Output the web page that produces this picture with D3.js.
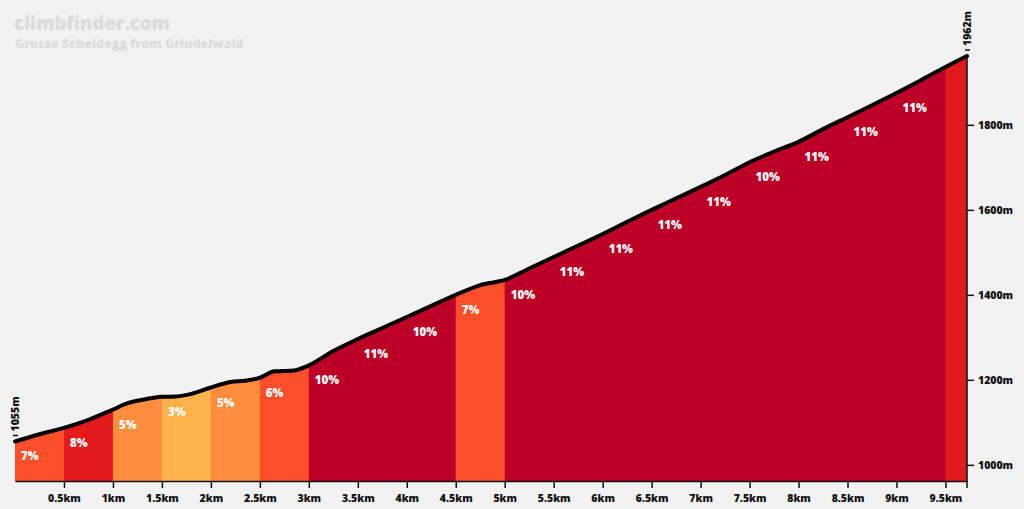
<!DOCTYPE html>
<html>
<head>
<meta charset="utf-8">
<script src="https://cdn.jsdelivr.net/npm/d3@7/dist/d3.min.js"></script>
<style>
  html, body { margin: 0; padding: 0; background: #f2f2f2; }
  svg { display: block; }
  text { font-family: "Open Sans", Lato, sans-serif; }
</style>
</head>
<body>
<svg id="chart" width="1024" height="509"></svg>
<script>
// ---- data ----
const distances = [0, 0.25, 0.5, 0.75, 1.0, 1.15, 1.3, 1.5, 1.65, 1.8, 2.0, 2.2, 2.35, 2.5, 2.65, 2.85, 3.0,
  3.25, 3.5, 3.75, 4.0, 4.25, 4.5, 4.75, 5.0, 5.25, 5.5, 5.75, 6.0, 6.25, 6.5, 6.75, 7.0, 7.25, 7.5, 7.75,
  8.0, 8.25, 8.5, 8.75, 9.0, 9.25, 9.5, 9.72];
const elevations = [1055, 1072, 1087, 1106, 1130, 1145, 1153, 1160, 1161, 1167, 1182, 1195, 1198, 1205, 1220, 1222, 1234,
  1268, 1296, 1322, 1348, 1374, 1400, 1423, 1435, 1462, 1489, 1516, 1543, 1572, 1600, 1627, 1654, 1682, 1712, 1737,
  1760, 1790, 1818, 1846, 1875, 1905, 1936, 1962];
const segStarts = [0, 0.5, 1, 1.5, 2, 2.5, 3, 3.5, 4, 4.5, 5, 5.5, 6, 6.5, 7, 7.5, 8, 8.5, 9, 9.5];
const segGrades = [7, 8, 5, 3, 5, 6, 10, 11, 10, 7, 10, 11, 11, 11, 11, 10, 11, 11, 11, 8];
const segShowLabel = [1,1,1,1,1,1,1,1,1,1,1,1,1,1,1,1,1,1,1,0];
const xTicks = [0.5, 1, 1.5, 2, 2.5, 3, 3.5, 4, 4.5, 5, 5.5, 6, 6.5, 7, 7.5, 8, 8.5, 9, 9.5];
const xTickLabels = ["0.5km","1km","1.5km","2km","2.5km","3km","3.5km","4km","4.5km","5km","5.5km","6km","6.5km","7km","7.5km","8km","8.5km","9km","9.5km"];
const yTicks = [1000, 1200, 1400, 1600, 1800];
const yTickLabels = ["1000m", "1200m", "1400m", "1600m", "1800m"];
const title = "climbfinder.com";
const subtitle = "Grosse Scheidegg from Grindelwald";
const startLabel = "1055m";
const endLabel = "1962m";

// ---- setup ----
const totalKm = distances[distances.length - 1];
const svg = d3.select("#chart");
const x = d3.scaleLinear().domain([0, totalKm]).range([15, 967]);
const y = d3.scaleLinear().domain([962, 1962]).range([481, 56]);
const pts = distances.map((d, i) => ({ d, e: elevations[i] }));

function color(g) {
  if (g >= 9) return "#bd0026";
  if (g >= 8) return "#e31a1c";
  if (g >= 6) return "#fc4e2a";
  if (g >= 4) return "#fd8d3c";
  return "#feb24c";
}
function elevAt(k) {
  for (let i = 1; i < pts.length; i++) {
    if (k <= pts[i].d) {
      const a = pts[i - 1], b = pts[i];
      return a.e + (b.e - a.e) * (k - a.d) / (b.d - a.d);
    }
  }
  return pts[pts.length - 1].e;
}

svg.append("rect").attr("width", 1024).attr("height", 509).attr("fill", "#f2f2f2");

// title
svg.append("text").attr("x", 14).attr("y", 30).text(title)
  .attr("font-size", 18.5).attr("font-weight", 800).attr("fill", "#dcdcdc");
svg.append("text").attr("x", 15).attr("y", 48).text(subtitle)
  .attr("font-size", 12.5).attr("font-weight", 800).attr("fill", "#dcdcdc");

const curve = d3.curveMonotoneX;
const area = d3.area().x(p => x(p.d)).y0(y(962)).y1(p => y(p.e)).curve(curve);
const line = d3.line().x(p => x(p.d)).y(p => y(p.e)).curve(curve);

const defs = svg.append("defs");
segStarts.forEach((s, i) => {
  const s1 = i < segStarts.length - 1 ? segStarts[i + 1] : totalKm;
  defs.append("clipPath").attr("id", "seg" + i)
    .append("rect").attr("x", x(s)).attr("y", 0)
    .attr("width", x(s1) - x(s) + (i < segStarts.length - 1 ? 0.5 : 0)).attr("height", 509);
  svg.append("path").datum(pts).attr("d", area)
    .attr("fill", color(segGrades[i])).attr("clip-path", "url(#seg" + i + ")");
});

// labels
segStarts.forEach((s, i) => {
  if (!segShowLabel[i]) return;
  svg.append("text").attr("x", x(s) + 6).attr("y", y(elevAt(s)) + 19)
    .text(segGrades[i] + "%").attr("fill", "#fff")
    .attr("font-size", 11.5).attr("font-weight", 800);
});

// profile line
svg.append("path").datum(pts).attr("d", line)
  .attr("fill", "none").attr("stroke", "#000").attr("stroke-width", 4)
  .attr("stroke-linejoin", "round").attr("stroke-linecap", "round");

// bottom axis
const xAxis = d3.axisBottom(x).tickValues(xTicks).tickSize(7).tickSizeOuter(0)
  .tickFormat((d, i) => xTickLabels[i]);
const gx = svg.append("g").attr("transform", `translate(0,${y(962)})`).call(xAxis);
gx.select(".domain").attr("stroke", "#111").attr("stroke-width", 1.5);
gx.selectAll(".tick line").attr("stroke", "#111").attr("stroke-width", 1.5);
gx.selectAll("text").attr("font-size", 10.5).attr("font-weight", 800)
  .attr("fill", "#111").attr("font-family", "'Open Sans', sans-serif").attr("dy", "1.0em");

// right axis
const yAxis = d3.axisRight(y).tickValues(yTicks).tickSize(7).tickSizeOuter(0)
  .tickFormat((d, i) => yTickLabels[i]);
const gy = svg.append("g").attr("transform", `translate(${x(totalKm)},0)`).call(yAxis);
gy.select(".domain").remove();
gy.append("line").attr("x1", 0).attr("x2", 0).attr("y1", y(1962)).attr("y2", y(962) + 7)
  .attr("stroke", "#111").attr("stroke-width", 1.5);
gy.selectAll(".tick line").attr("stroke", "#111").attr("stroke-width", 1.5);
gy.selectAll("text").attr("font-size", 10.5).attr("font-weight", 800)
  .attr("fill", "#111").attr("font-family", "'Open Sans', sans-serif").attr("x", 11);

// start / end elevation markers
function marker(k, e, label) {
  const px = x(k), py = y(e) - 6;
  svg.append("line").attr("x1", px - 2).attr("x2", px + 3).attr("y1", py).attr("y2", py)
    .attr("stroke", "#111").attr("stroke-width", 1.5);
  svg.append("text").attr("transform", `translate(${px + 4},${py - 4}) rotate(-90)`)
    .text(label).attr("font-size", 10.5).attr("font-weight", 800).attr("fill", "#111");
}
marker(0, elevations[0], startLabel);
marker(totalKm, elevations[elevations.length - 1], endLabel);
</script>
</body>
</html>
